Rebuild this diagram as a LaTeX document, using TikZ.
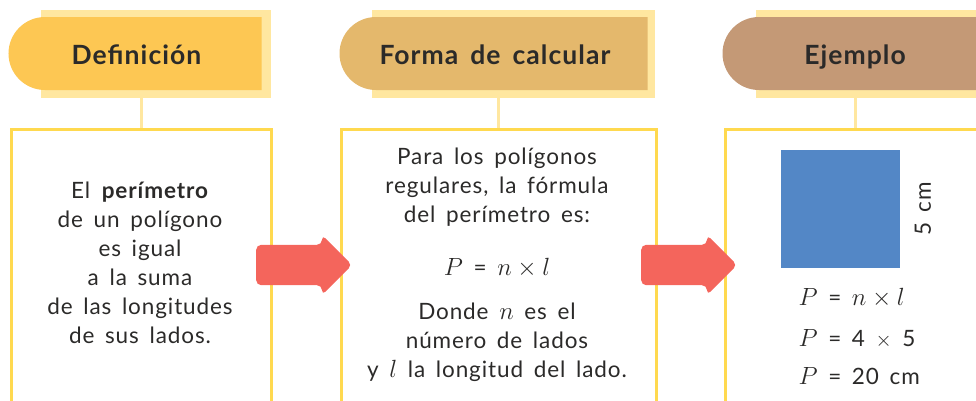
\documentclass[tikz,border=0pt]{standalone}
\usepackage{fontspec}
\setmainfont{Lato}[LetterSpace=4,WordSpace=1.6]
\usetikzlibrary{shapes.misc,shapes.arrows}

\definecolor{ink}{HTML}{2B2A29}
\definecolor{pale}{HTML}{FFE7A0}
\definecolor{boxline}{HTML}{FFD94F}
\definecolor{defcol}{HTML}{FDC753}
\definecolor{calcol}{HTML}{E4B86C}
\definecolor{ejcol}{HTML}{C49976}
\definecolor{arrowred}{HTML}{F4655C}
\definecolor{sqblue}{HTML}{5387C6}

\newcommand{\mv}[1]{{\fontsize{29}{30}\selectfont$#1$}}

\tikzstyle{band}=[fill=pale,inner sep=0pt,minimum height=88pt]
\tikzstyle{tab}=[rounded rectangle,rounded rectangle right arc=none,inner sep=0pt,minimum height=73pt,text height=25pt,text depth=4pt,text=ink,font=\bfseries\fontsize{26.5}{30}\selectfont]
\tikzstyle{frame}=[draw=boxline,line width=2.5pt,minimum height=320pt,anchor=north west,inner sep=0pt]
\tikzstyle{link}=[draw=pale,line width=3pt]
\tikzstyle{txt}=[align=center,text=ink,font=\fontsize{22.5}{29}\selectfont]
\tikzstyle{bigarrow}=[single arrow,fill=arrowred,inner sep=20pt,minimum width=60pt,single arrow head extend=10pt,minimum height=96pt,rounded corners=5pt,anchor=tail]

\begin{document}
\begin{tikzpicture}[x=1pt,y=-1pt]
\useasboundingbox (0,0) rectangle (976,400);
\clip (0,0) rectangle (976,400);
% headers
\foreach \bx/\bw/\tx/\tw/\col/\name/\label in {156/230/136.5/253/defcol/1/Definición, 513.5/283/495/308/calcol/2/Forma de calcular, 880/248/855/262/ejcol/3/Ejemplo}{
  \node[band,minimum width=\bw pt] (p\name) at (\bx,54) {};
  \node[tab,fill=\col,minimum width=\tw pt] (h\name) at (\tx,53.5) {\label};
}
% boxes
\foreach \x/\w/\name in {10/260/1, 340/315/2, 724/260/3}
  \node[frame,minimum width=\w pt] (b\name) at (\x,128) {};
\foreach \i in {1,2,3}
  \draw[link] (p\i.south -| b\i.north) -- (b\i.north);
% arrows
\node[bigarrow] (a1) at (256,265) {};
\node[bigarrow] (a2) at (641,265) {};

\node[txt] (t1) at (140,263) {El \textbf{perímetro}\\de un polígono\\es igual\\a la suma\\de las longitudes\\de sus lados.};

\node[txt] (t2) at (497,187) {Para los polígonos\\regulares, la fórmula\\del perímetro es:};
\node[txt] (f2) at (497,268) {\mv{P} = \mv{n \times l}};
\node[txt] (t3) at (497,342) {Donde \mv{n} es el\\número de lados\\y \mv{l} la longitud del lado.};

\node[fill=sqblue,minimum width=119pt,minimum height=118pt,inner sep=0pt] (sq) at (840.5,209) {};
\node[txt,rotate=90] (lado) at (923,209) {5 cm};
\foreach \y/\name/\expr in {298/e1/{\mv{P} = \mv{n \times l}}, 339/e2/{\mv{P} = 4 $\times$ 5}, 376/e3/{\mv{P} = 20 cm}}
  \node[txt,anchor=west] (\name) at (795,\y) {\expr};
\end{tikzpicture}
\end{document}
